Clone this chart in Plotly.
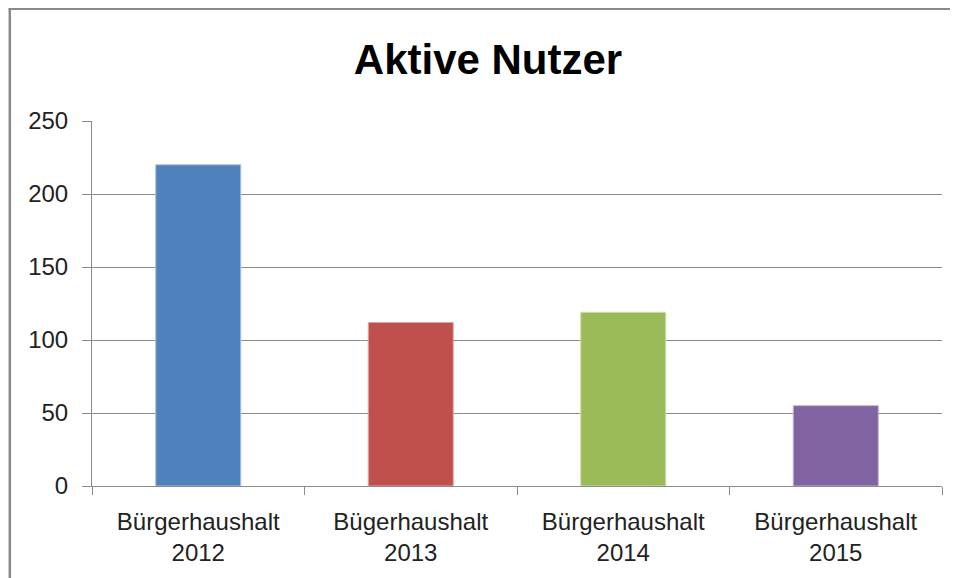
import plotly.graph_objects as go

categories = ["Bürgerhaushalt<br>2012", "Bügerhaushalt<br>2013", "Bürgerhaushalt<br>2014", "Bürgerhaushalt<br>2015"]
values = [220, 112, 119, 55]
colors = ["#4F81BD", "#C0504D", "#9BBB59", "#8064A2"]
edge_colors = ["#A7C0DE", "#DFA8A6", "#CDDDAC", "#BFB1D0"]
y_ticks = [0, 50, 100, 150, 200, 250]

FONT = "Liberation Sans, Arial, sans-serif"

fig = go.Figure(go.Bar(
    x=categories, y=values,
    marker=dict(color=colors, line=dict(color=edge_colors, width=1)),
    width=0.4,
))

# page body has an 8px margin, so the figure is 950x570 placed at (8,8)
L, R, T, B = 84, 16, 113, 92
W, H = 950, 570
pw, ph = W - L - R, H - T - B
def px(x): return (x - L) / pw
def py(y): return (H - B - y) / ph

frame = dict(color="#8A8A8A", width=2.5)
fig.update_layout(
    width=W, height=H, autosize=False,
    margin=dict(l=L, r=R, t=T, b=B, pad=0),
    paper_bgcolor="white", plot_bgcolor="white",
    showlegend=False,
    title=dict(text="<b>Aktive Nutzer</b>", x=480 / W, xanchor="center", y=1 - 51 / H, yanchor="middle",
               font=dict(family=FONT, size=42, color="black")),
    font=dict(family=FONT, size=24, color="#222"),
    bargap=0.6,
    shapes=[
        dict(type="line", xref="paper", yref="paper", x0=px(1.8), x1=px(1.8), y0=py(0.8), y1=py(H), line=frame, layer="below"),
        dict(type="line", xref="paper", yref="paper", x0=px(0.5), x1=px(W), y0=py(0.8), y1=py(0.8), line=frame, layer="below"),
    ],
)
fig.update_xaxes(
    showline=True, linecolor="#8C8C8C", linewidth=1,
    ticks="outside", tickson="boundaries", ticklen=8, tickcolor="#8C8C8C",
    ticklabelstandoff=14,
    showgrid=False, tickfont=dict(family=FONT, size=24, color="#222"),
)
fig.update_yaxes(
    range=[0, 250], tickvals=y_ticks, showline=True, linecolor="#8C8C8C", linewidth=1,
    ticks="outside", ticklen=9, tickcolor="#8C8C8C", ticklabelstandoff=9,
    showgrid=True, gridcolor="#8C8C8C", gridwidth=1, zeroline=False,
    tickfont=dict(family=FONT, size=24, color="#222"),
)

fig.write_html("out.html")
